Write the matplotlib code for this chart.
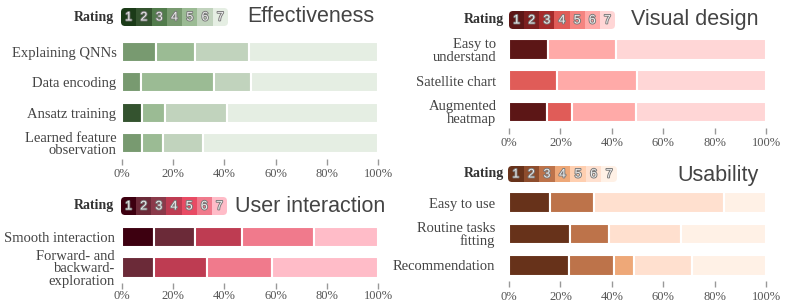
import numpy as np
import matplotlib
matplotlib.use('Agg')
from matplotlib import pyplot as plt
from matplotlib.patches import Rectangle, FancyBboxPatch
import matplotlib.patheffects as pe

W, H = 789, 303

#%% DATA (share of participants per rating, in %)

eff_labels = ['Explaining QNNs', 'Data encoding', 'Ansatz training',
              'Learned feature\nobservation']
eff_ratings = [[4, 5, 6, 7], [4, 5, 6, 7], [2, 5, 6, 7], [4, 5, 6, 7]]
eff_values = [[13.1, 15.4, 21.2, 50.3],
              [7.4, 28.6, 14.4, 49.6],
              [7.7, 9.1, 24.1, 59.1],
              [7.7, 8.2, 15.6, 68.5]]

vis_labels = ['Easy to\nunderstand', 'Satellite chart', 'Augmented\nheatmap']
vis_ratings = [[1, 6, 7], [4, 6, 7], [1, 4, 6, 7]]
vis_values = [[15.2, 26.6, 58.2],
              [18.8, 31.0, 50.2],
              [14.6, 9.8, 25.2, 50.4]]

usr_labels = ['Smooth interaction', 'Forward- and\nbackward-\nexploration']
usr_ratings = [[1, 2, 4, 6, 7], [2, 4, 6, 7]]
usr_values = [[12.4, 16.2, 18.3, 28.0, 25.1],
              [12.4, 20.9, 25.1, 41.6]]

use_labels = ['Easy to use', 'Routine tasks\nfitting', 'Recommendation']
use_ratings = [[1, 3, 6, 7], [1, 3, 6, 7], [1, 3, 4, 6, 7]]
use_values = [[16.1, 17.0, 50.7, 16.2],
              [23.6, 15.5, 27.8, 33.1],
              [23.3, 17.4, 7.8, 22.9, 28.6]]

ticks = [0, 20, 40, 60, 80, 100]

greens = ['#1b3b18', '#34532f', '#527c4c', '#789a70', '#9bbb94', '#c1d3bd', '#e5eee3']
reds = ['#5c1616', '#7c1f1f', '#a52b2b', '#e05c58', '#f58480', '#ffaaa8', '#ffd6d6']
pinks = ['#3d0010', '#6b2a38', '#8a3a4a', '#be3c52', '#e84b64', '#f07a8c', '#ffbcc8']
browns = ['#67321a', '#8e4d2d', '#bd734a', '#eea878', '#ffcfb0', '#ffe0cf', '#fff1e6']

#%% FIGURA

fig = plt.figure(figsize=(W/100, H/100), dpi=100)
over = fig.add_axes([0, 0, 1, 1])
over.set_xlim(0, W)
over.set_ylim(H, 0)
over.axis('off')

serif = 'Liberation Serif'
sans = 'Liberation Sans'


def panel(x0, x1, ytop, ybot, labels, ratings, values, pal, lpad, xpad):
    ax = fig.add_axes([x0/W, 1-ybot/H, (x1-x0)/W, (ybot-ytop)/H])
    n = len(labels)
    for i in range(n):
        left = 0
        for r, v in zip(ratings[i], values[i]):
            ax.barh(i, v, left=left, height=0.66, color=pal[r-1],
                    edgecolor='white', linewidth=1.5, clip_on=False)
            left += v
    ax.set_xlim(0, 100)
    ax.set_ylim(n-0.5, -0.5)
    ax.set_yticks(range(n))
    ax.set_yticklabels(labels, fontfamily=serif, fontsize=10.5,
                       color='#444444', linespacing=0.95)
    ax.set_xticks(ticks)
    ax.set_xticklabels(['%d%%' % t for t in ticks], fontfamily=serif,
                       fontsize=9, color='#555555')
    ax.tick_params(axis='y', length=0, pad=lpad)
    ax.tick_params(axis='x', length=4, width=1, color='#999999', pad=xpad)
    for s in ax.spines.values():
        s.set_visible(False)
    return ax


def header(xr, x0, x1, y0, y1, pal, title, tx, ty):
    over.text(xr, (y0+y1)/2, 'Rating', ha='right', va='center',
              fontfamily=serif, fontweight='bold', fontsize=10, color='#333333')
    clip = FancyBboxPatch((x0, y0), x1-x0, y1-y0,
                          boxstyle='round,pad=0,rounding_size=4',
                          facecolor='none', edgecolor='none')
    over.add_patch(clip)
    cw = (x1-x0)/7
    for k in range(7):
        rect = Rectangle((x0+k*cw, y0), cw, y1-y0, facecolor=pal[k],
                         edgecolor='none')
        over.add_patch(rect)
        rect.set_clip_path(clip)
        over.text(x0+(k+0.5)*cw, (y0+y1)/2+0.5, str(k+1), ha='center',
                  va='center', fontfamily=sans, fontsize=9, color='#eeeeee',
                  path_effects=[pe.withStroke(linewidth=1.3, foreground='#777777')])
    over.text(tx, ty, title, ha='left', va='center', fontfamily=sans,
              fontsize=15.5, color='#444444')


panel(122, 378, 36.4, 158.6, eff_labels, eff_ratings, eff_values, greens, 4, 2.5)
panel(509, 766, 33.9, 127.6, vis_labels, vis_ratings, vis_values, reds, 9, 3)
panel(122, 378, 221.3, 282.9, usr_labels, usr_ratings, usr_values, pinks, 5, 1)
panel(509, 766, 187, 281, use_labels, use_ratings, use_values, browns, 10, 3.5)

header(114, 121, 228, 8, 26, greens, 'Effectiveness', 247, 17)
header(504, 509, 615, 11, 29, reds, 'Visual design', 631, 20)
header(114, 121, 227, 197, 215, pinks, 'User interaction', 235, 207)
header(504, 508, 617, 166, 182, browns, 'Usability', 677, 175)

plt.savefig('out.png', dpi=100)
